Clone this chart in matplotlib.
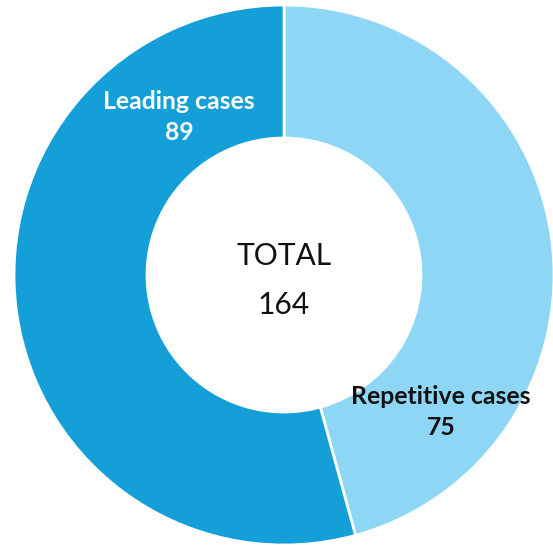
import matplotlib
matplotlib.use("Agg")
import matplotlib.pyplot as plt

categories = ["Repetitive cases", "Leading cases"]
values = [75, 89]
colors = ["#8DD6F5", "#149FD9"]
total_label = "TOTAL"

W, H = 553, 546
fig = plt.figure(figsize=(W/100, H/100), dpi=100)
ax = fig.add_axes([0, 0, 1, 1])

cx, cy, R, r = 284, 546 - 275, 270, 137
wedges, _ = ax.pie(values, colors=colors, startangle=90, counterclock=False,
                   center=(cx, cy), radius=R, frame=True,
                   wedgeprops=dict(width=R - r, edgecolor="white", linewidth=2))
ax.set_xlim(0, W)
ax.set_ylim(0, H)
ax.set_aspect("equal")
ax.axis("off")

fam = ["Lato", "DejaVu Sans"]
ax.text(179, 546 - 117, f"{categories[1]}\n{values[1]}", ha="center", va="center",
        fontsize=17.8, fontweight="bold", color="white", family=fam, linespacing=1.38)
ax.text(441, 546 - 412, f"{categories[0]}\n{values[0]}", ha="center", va="center",
        fontsize=17.8, fontweight="bold", color="#111111", family=fam, linespacing=1.38)
ax.text(cx, 546 - 256, total_label, ha="center", va="center", fontsize=21.6,
        color="#111111", family=fam)
ax.text(cx, 546 - 305, f"{sum(values)}", ha="center", va="center", fontsize=21.6,
        color="#111111", family=fam)

fig.savefig("out.png", dpi=100)
